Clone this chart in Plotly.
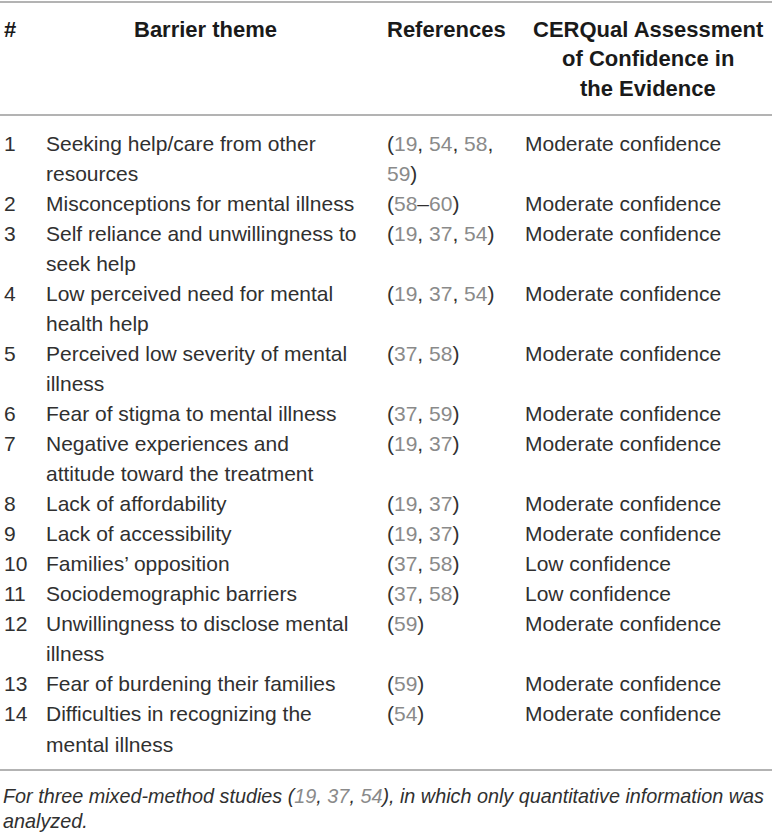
import re
import plotly.graph_objects as go

# ---- data ----
row_numbers = [str(i) for i in range(1, 15)]
barrier_themes = [
    "Seeking help/care from other\nresources",
    "Misconceptions for mental illness",
    "Self reliance and unwillingness to\nseek help",
    "Low perceived need for mental\nhealth help",
    "Perceived low severity of mental\nillness",
    "Fear of stigma to mental illness",
    "Negative experiences and\nattitude toward the treatment",
    "Lack of affordability",
    "Lack of accessibility",
    "Families\u2019 opposition",
    "Sociodemographic barriers",
    "Unwillingness to disclose mental\nillness",
    "Fear of burdening their families",
    "Difficulties in recognizing the\nmental illness",
]
references = [
    "(19, 54, 58,\n59)",
    "(58\u201360)",
    "(19, 37, 54)",
    "(19, 37, 54)",
    "(37, 58)",
    "(37, 59)",
    "(19, 37)",
    "(19, 37)",
    "(19, 37)",
    "(37, 58)",
    "(37, 58)",
    "(59)",
    "(59)",
    "(54)",
]
confidence = [
    "Moderate confidence", "Moderate confidence", "Moderate confidence",
    "Moderate confidence", "Moderate confidence", "Moderate confidence",
    "Moderate confidence", "Moderate confidence", "Moderate confidence",
    "Low confidence", "Low confidence", "Moderate confidence",
    "Moderate confidence", "Moderate confidence",
]
headers = ["#", "Barrier theme", "References",
           "CERQual Assessment\nof Confidence in\nthe Evidence"]
footnote = ("For three mixed-method studies (19, 37, 54), in which only "
            "quantitative information was\nanalyzed.")

# ---- style ----
FONT = "Liberation Sans, Arial, sans-serif"
TEXT = "#303030"
HEAD = "#1a1a1a"
LINK = "#8a8a8a"
RULE = "#9a9a9a"
FS = 21
LINE_H = 30.05

def link_nums(s):
    return re.sub(r"(\d+)", lambda m: f"<span style='color:{LINK}'>{m.group(1)}</span>", s)

fig = go.Figure()
fig.add_trace(go.Scatter(x=[0, 772], y=[0, 832], mode="markers",
                         marker=dict(opacity=0), hoverinfo="skip", showlegend=False))

ann = []
def add(x, y, text, anchor="left", bold=False, italic=False, size=FS, color=TEXT):
    t = text
    if bold:
        t = "<b>" + t + "</b>"
    if italic:
        t = "<i>" + t + "</i>"
    ann.append(dict(x=x, y=y, xref="x", yref="y", text=t, showarrow=False,
                    xanchor=anchor, yanchor="middle", align="left",
                    font=dict(family=FONT, size=size, color=color)))

# header
hy0 = 29
add(2, hy0, headers[0], bold=True, size=22, color=HEAD)
add(205, hy0, headers[1], anchor="center", bold=True, size=22, color=HEAD)
add(385, hy0, headers[2], bold=True, size=22, color=HEAD)
for k, line in enumerate(headers[3].split("\n")):
    add(648, hy0 + k * 29.5, line, anchor="center", bold=True, size=22, color=HEAD)

# rows
y = 143
for num, theme, ref, conf in zip(row_numbers, barrier_themes, references, confidence):
    add(2, y, num)
    tl = theme.split("\n")
    rl = ref.split("\n")
    for k, line in enumerate(tl):
        add(44, y + k * LINE_H, line)
    for k, line in enumerate(rl):
        add(385, y + k * LINE_H, link_nums(line))
    add(523, y, conf)
    y += max(len(tl), len(rl)) * LINE_H

# footnote
for k, line in enumerate(footnote.split("\n")):
    add(1, 796 + k * 24.5, link_nums(line), italic=True, size=19.8)

shapes = []
for ly in [2, 115, 770]:
    shapes.append(dict(type="line", xref="x", yref="y", x0=0, x1=772, y0=ly, y1=ly,
                       line=dict(color=RULE, width=1.5)))

fig.update_layout(
    width=772, height=832,
    margin=dict(l=0, r=0, t=0, b=0),
    paper_bgcolor="white", plot_bgcolor="white",
    xaxis=dict(range=[0, 772], visible=False, fixedrange=True),
    yaxis=dict(range=[832, 0], visible=False, fixedrange=True),
    annotations=ann, shapes=shapes, showlegend=False,
)
fig.write_html("out.html", config={"displayModeBar": False},
               post_script="document.body.style.margin='0px';document.body.style.overflow='hidden';")
